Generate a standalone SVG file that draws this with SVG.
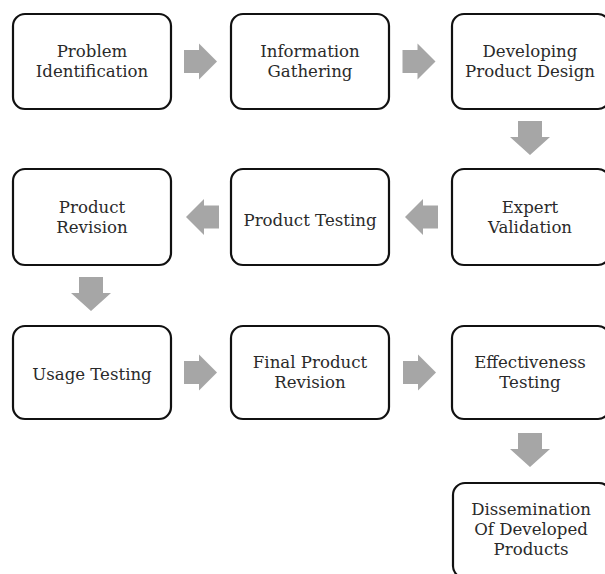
<svg xmlns="http://www.w3.org/2000/svg" xmlns:xlink="http://www.w3.org/1999/xlink" width="605" height="574" viewBox="0 0 605 574">
  <style>
    .box { fill: #ffffff; stroke: #111111; stroke-width: 2.2; }
    .lbl { font-family: "DejaVu Serif", "Liberation Serif", serif; font-size: 16.6px; fill: #2a2a2a; text-anchor: middle; }
    .arw { fill: #a6a6a6; }
  </style>
  <defs>
    <!-- block arrow pointing right, origin at the tail centre -->
    <path id="arrowR" class="arw" d="M0,-11.5 H15 V-18 L33,0 L15,18 V11.5 H0 Z"/>
    <!-- block arrow pointing down, origin at the tail centre -->
    <path id="arrowD" class="arw" d="M-12,0 H12 V16 H20 L0,34 L-20,16 H-12 Z"/>
  </defs>
  <rect width="605" height="574" fill="#ffffff"/>

  <g id="connectors">
    <use xlink:href="#arrowR" x="184" y="61.5"/>
    <use xlink:href="#arrowR" x="402.5" y="61.5"/>
    <use xlink:href="#arrowD" x="530" y="121"/>
    <use xlink:href="#arrowR" transform="translate(438,217) scale(-1,1)"/>
    <use xlink:href="#arrowR" transform="translate(219,217) scale(-1,1)"/>
    <use xlink:href="#arrowD" x="91" y="277"/>
    <use xlink:href="#arrowR" x="184" y="372.5"/>
    <use xlink:href="#arrowR" x="403" y="372.5"/>
    <use xlink:href="#arrowD" x="530" y="433"/>
  </g>

  <g id="problem-identification">
    <rect class="box" x="13" y="14" width="158" height="95" rx="12"/>
    <text class="lbl" x="92" y="57">Problem</text>
    <text class="lbl" x="92" y="77">Identification</text>
  </g>
  <g id="information-gathering">
    <rect class="box" x="231" y="14" width="158" height="95" rx="12"/>
    <text class="lbl" x="310" y="57">Information</text>
    <text class="lbl" x="310" y="77">Gathering</text>
  </g>
  <g id="developing-product-design">
    <rect class="box" x="452" y="14" width="158" height="95" rx="12"/>
    <text class="lbl" x="530" y="57">Developing</text>
    <text class="lbl" x="530" y="77">Product Design</text>
  </g>

  <g id="product-revision">
    <rect class="box" x="13" y="169" width="158" height="96" rx="12"/>
    <text class="lbl" x="92" y="213">Product</text>
    <text class="lbl" x="92" y="233">Revision</text>
  </g>
  <g id="product-testing">
    <rect class="box" x="231" y="169" width="158" height="96" rx="12"/>
    <text class="lbl" x="310" y="226">Product Testing</text>
  </g>
  <g id="expert-validation">
    <rect class="box" x="452" y="169" width="158" height="96" rx="12"/>
    <text class="lbl" x="530" y="213">Expert</text>
    <text class="lbl" x="530" y="233">Validation</text>
  </g>

  <g id="usage-testing">
    <rect class="box" x="13" y="326" width="158" height="93" rx="12"/>
    <text class="lbl" x="92" y="380">Usage Testing</text>
  </g>
  <g id="final-product-revision">
    <rect class="box" x="231" y="326" width="158" height="93" rx="12"/>
    <text class="lbl" x="310" y="368">Final Product</text>
    <text class="lbl" x="310" y="388">Revision</text>
  </g>
  <g id="effectiveness-testing">
    <rect class="box" x="452" y="326" width="158" height="93" rx="12"/>
    <text class="lbl" x="530" y="368">Effectiveness</text>
    <text class="lbl" x="530" y="388">Testing</text>
  </g>

  <g id="dissemination">
    <rect class="box" x="453" y="483" width="158" height="95" rx="12"/>
    <text class="lbl" x="531" y="515">Dissemination</text>
    <text class="lbl" x="531" y="535">Of Developed</text>
    <text class="lbl" x="531" y="555">Products</text>
  </g>
</svg>
